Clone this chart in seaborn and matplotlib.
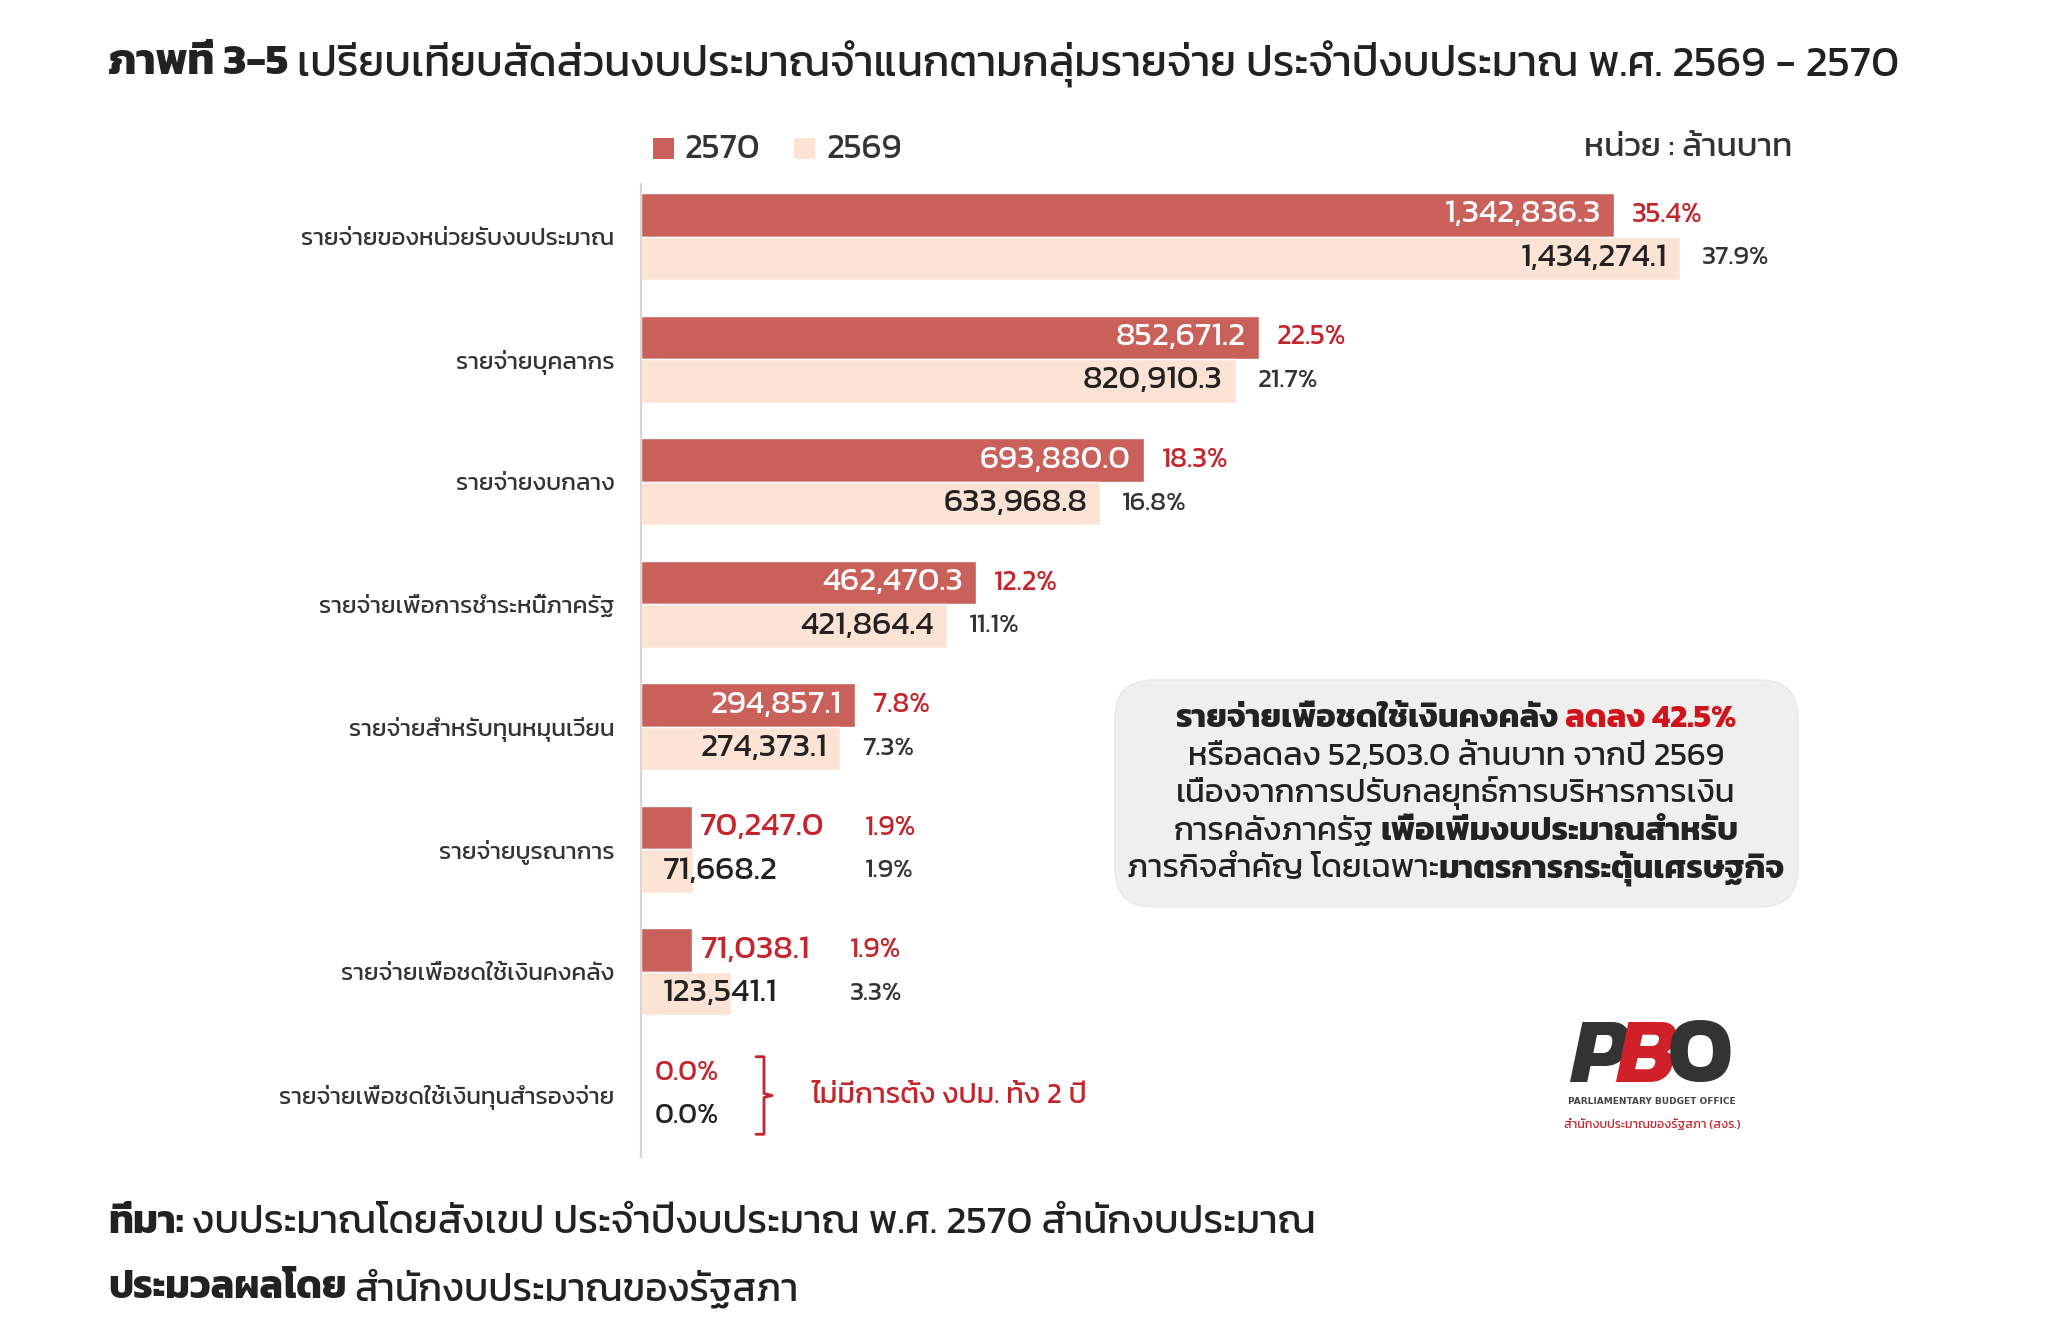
import matplotlib
matplotlib.use("Agg")
import matplotlib.pyplot as plt
import matplotlib.font_manager as fm
import matplotlib.patheffects as pe
from matplotlib.ft2font import FT2Font
from matplotlib.transforms import IdentityTransform
from matplotlib.patches import FancyBboxPatch, Rectangle
import seaborn as sns
import pandas as pd

# ---------------- data ----------------
categories = [
    "รายจ่ายของหน่วยรับงบประมาณ",
    "รายจ่ายบุคลากร",
    "รายจ่ายงบกลาง",
    "รายจ่ายเพื่อการชำระหนี้ภาครัฐ",
    "รายจ่ายสำหรับทุนหมุนเวียน",
    "รายจ่ายบูรณาการ",
    "รายจ่ายเพื่อชดใช้เงินคงคลัง",
    "รายจ่ายเพื่อชดใช้เงินทุนสำรองจ่าย",
]
years = ["2570", "2569"]
values_2570 = [1342836.3, 852671.2, 693880.0, 462470.3, 294857.1, 70247.0, 71038.1, 0.0]
values_2569 = [1434274.1, 820910.3, 633968.8, 421864.4, 274373.1, 71668.2, 123541.1, 0.0]
pct_2570 = ["35.4%", "22.5%", "18.3%", "12.2%", "7.8%", "1.9%", "1.9%", "0.0%"]
pct_2569 = ["37.9%", "21.7%", "16.8%", "11.1%", "7.3%", "1.9%", "3.3%", "0.0%"]

title_bold = "ภาพที่ 3-5"
title_rest = "เปรียบเทียบสัดส่วนงบประมาณจำแนกตามกลุ่มรายจ่าย ประจำปีงบประมาณ พ.ศ. 2569 - 2570"
unit_text = "หน่วย : ล้านบาท"
zero_note = "ไม่มีการตั้ง งปม. ทั้ง 2 ปี"
box_lines = [
    [("รายจ่ายเพื่อชดใช้เงินคงคลัง", "b", "k"), ("ลดลง 42.5%", "b", "r")],
    [("หรือลดลง 52,503.0 ล้านบาท จากปี 2569", "n", "k")],
    [("เนื่องจากการปรับกลยุทธ์การบริหารการเงิน", "n", "k")],
    [("การคลังภาครัฐ", "n", "k"), ("เพื่อเพิ่มงบประมาณสำหรับ", "b", "k")],
    [("ภารกิจสำคัญ โดยเฉพาะ", "n", "k", 0), ("มาตรการกระตุ้นเศรษฐกิจ", "b", "k")],
]
footer1 = [("ที่มา:", "b"), ("งบประมาณโดยสังเขป ประจำปีงบประมาณ พ.ศ. 2570 สำนักงบประมาณ", "n")]
footer2 = [("ประมวลผลโดย", "b"), ("สำนักงบประมาณของรัฐสภา", "n")]

# ---------------- colours ----------------
C70 = "#c9605a"
C69 = "#fce3d4"
RED = "#c4242b"
DARK = "#222222"

# ---------------- fonts (find one with Thai glyphs) ----------------
def wnum(w):
    if isinstance(w, str):
        return fm.weight_dict.get(w, 400)
    return int(w)

def thai_fonts():
    paths = set(f.fname for f in fm.fontManager.ttflist)
    try:
        paths.update(fm.findSystemFonts())
    except Exception:
        pass
    info = {}
    for p in sorted(paths):
        try:
            cm = FT2Font(p).get_charmap()
        except Exception:
            continue
        if 0x0E01 in cm and 0x0E32 in cm:
            try:
                fm.fontManager.addfont(p)
            except Exception:
                pass
            for e in fm.fontManager.ttflist:
                if e.fname == p:
                    info.setdefault(e.name, set()).add(wnum(e.weight))
    return info

info = thai_fonts()
pref = ["Noto Sans Thai", "Kanit", "Prompt", "Sarabun", "Noto Sans Thai Looped",
        "Loma", "Garuda", "Waree", "Umpush", "Norasi", "Kinnari", "Sawasdee"]
thai = None
for p in pref:
    if p in info and max(info[p]) >= 600:
        thai = p
        break
if thai is None:
    for p in pref:
        if p in info:
            thai = p
            break
if thai is None and info:
    withbold = [n for n in info if max(info[n]) >= 600]
    thai = withbold[0] if withbold else sorted(info)[0]
HAS_BOLD = bool(thai) and max(info[thai]) >= 600
FAM = ([thai] if thai else []) + ["DejaVu Sans"]

sns.set_theme(style="white")
plt.rcParams["font.family"] = FAM

W, H = 2061, 1331
fig = plt.figure(figsize=(W / 100, H / 100), dpi=100)
fig.patch.set_facecolor("white")
ID = IdentityTransform()

ax_l, ax_r, ax_t, ax_b = 641, 1979, 184, 1157
ax = fig.add_axes([ax_l / W, 1 - ax_b / H, (ax_r - ax_l) / W, (ax_b - ax_t) / H])

df = pd.DataFrame({
    "category": categories * 2,
    "year": [years[0]] * len(categories) + [years[1]] * len(categories),
    "value": values_2570 + values_2569,
})
sns.barplot(data=df, y="category", x="value", hue="year", hue_order=years,
            order=categories, palette={years[0]: C70, years[1]: C69},
            orient="h", width=0.71, saturation=1, errorbar=None,
            legend=False, ax=ax)

ax.set_xlim(0, 1846800)
ax.set_ylim(7.51, -0.43)
ax.set_xlabel("")
ax.set_ylabel("")
ax.set_xticks([])
for s in ["top", "right", "bottom"]:
    ax.spines[s].set_visible(False)
ax.spines["left"].set_color("#d6d6d6")
ax.spines["left"].set_linewidth(1.6)
ax.tick_params(axis="y", length=0, pad=19, labelsize=17.5, labelcolor="#333333")
ax.set_facecolor("white")

fig.canvas.draw()
R = fig.canvas.get_renderer()

def tw(t):
    return t.get_window_extent(R).width

def bold_kw(size, color):
    if HAS_BOLD:
        return {"fontweight": "bold"}
    return {"path_effects": [pe.withStroke(linewidth=max(0.9, size * 0.055), foreground=color)]}

def put(x, y_top, s, bold=False, **kw):
    kw.setdefault("va", "center")
    if bold:
        kw.update(bold_kw(kw.get("fontsize", 12), kw.get("color", DARK)))
    return fig.text(x, H - y_top, s, transform=ID, **kw)

def space_w(size, bold):
    a = put(0, 0, "x x", bold=bold, fontsize=size)
    b = put(0, 0, "xx", bold=bold, fontsize=size)
    w = tw(a) - tw(b)
    a.remove(); b.remove()
    return w

def rich(pieces, x, y_top, size, ha="left", va="center"):
    sp = {"n": space_w(size, False), "b": space_w(size, True)}
    arts, widths, gaps = [], [], []
    for pc in pieces:
        s, wt = pc[0], pc[1]
        col = {"k": DARK, "r": "#d0141c"}[pc[2]] if len(pc) > 2 else DARK
        t = put(0, y_top, s, bold=(wt == "b"), fontsize=size, color=col, ha="left", va=va)
        arts.append(t); widths.append(tw(t))
        gaps.append(sp[wt] if len(pc) < 4 else pc[3])
    gaps[-1] = 0
    total = sum(widths) + sum(gaps)
    x0 = x - total / 2 if ha == "center" else (x - total if ha == "right" else x)
    for t, w, g in zip(arts, widths, gaps):
        t.set_x(x0)
        x0 += w + g

# ---------------- bar labels ----------------
def disp(xv, yv):
    return ax.transData.transform((xv, yv))

VAL_FS = 24
bars70 = list(ax.containers[0])
bars69 = list(ax.containers[1])
for i in range(len(categories)):
    groups = [(bars70[i], values_2570[i], pct_2570[i], 0), (bars69[i], values_2569[i], pct_2569[i], 1)]
    if values_2570[i] == 0 and values_2569[i] == 0:
        for b, v, pc, k in groups:
            x0, yc = disp(0, b.get_y() + b.get_height() / 2)
            put(x0 + 14, H - yc, pc, fontsize=21, color=RED if k == 0 else DARK)
        continue
    info_rows = []
    for b, v, pc, k in groups:
        yc_data = b.get_y() + b.get_height() / 2
        x_end, yc = disp(b.get_width(), yc_data)
        x_start, _ = disp(0, yc_data)
        y_top = H - yc
        t = put(0, y_top, f"{v:,.1f}", fontsize=VAL_FS,
                color="white" if k == 0 else DARK, ha="right")
        w = tw(t)
        if w + 30 < x_end - x_start:
            t.set_x(x_end - 13)
            lab_end = x_end
            inside = True
        else:
            t.set_ha("left")
            if k == 0:
                t.set_color(RED)
                t.set_x(x_end + 8)
                lab_end = x_end + 8 + w
            else:
                t.set_x(x_start + 22)
                lab_end = x_start + 22 + w
            inside = False
        info_rows.append((x_end, lab_end, inside, y_top, pc, k))
    any_out = not all(it[2] for it in info_rows)
    common = max(it[1] for it in info_rows) + 40
    for x_end, lab_end, inside, y_top, pc, k in info_rows:
        xp = common if any_out else x_end + (18 if k == 0 else 22)
        put(xp, y_top, pc, fontsize=20.5 if k == 0 else 19.5,
            color=RED if k == 0 else "#333333")

# bracket + note for the zero row
b70, b69 = bars70[-1], bars69[-1]
_, y1 = disp(0, b70.get_y() + b70.get_height() / 2)
_, y2 = disp(0, b69.get_y() + b69.get_height() / 2)
ytop_b, ybot_b = y1 + 16, y2 - 18
ymid = (ytop_b + ybot_b) / 2
bx = 764
fig.add_artist(plt.Line2D([bx - 8, bx, bx, bx + 8, bx, bx, bx - 8],
                          [ytop_b, ytop_b, ymid + 2, ymid, ymid - 2, ybot_b, ybot_b],
                          transform=ID, color=RED, lw=2))
put(811, H - ymid, zero_note, fontsize=21, color=RED)

# ---------------- title / legend / unit ----------------
rich([(title_bold, "b"), (title_rest, "n")], 108, 64, 31)

for sx, col, lab in [(653, C70, years[0]), (794, C69, years[1])]:
    fig.add_artist(Rectangle((sx, H - 159), 21, 21, transform=ID, color=col, lw=0))
    put(sx + 32, 149, lab, fontsize=25, color="#333333")
put(1792, 149, unit_text, fontsize=24, color="#333333", ha="right")

# ---------------- annotation box ----------------
fig.add_artist(FancyBboxPatch((1115, H - 907), 683, 227, transform=ID,
                              boxstyle="round,pad=0,rounding_size=38",
                              fc="#efefef", ec="#e8e8e8", lw=1))
for j, line in enumerate(box_lines):
    rich(line, 1456, 727 + j * 37.6, 23.5, ha="center", va="baseline")

# ---------------- logo ----------------
lx, ly = 1570, 1060
pP = put(lx, ly, "P", bold=True, fontsize=66, color="#333333", fontstyle="italic")
wp = tw(pP)
pB = put(lx + wp - 10, ly, "B", bold=True, fontsize=66, color="#d0202a", fontstyle="italic")
wb = tw(pB)
pO = put(lx + wp + wb - 18, ly, "O", bold=True, fontsize=66, color="#333333")
put(1652, 1101, "PARLIAMENTARY BUDGET OFFICE", fontsize=6.5, fontweight="bold",
    color="#444444", ha="center", family=["DejaVu Sans"])
put(1652, 1124, "สำนักงบประมาณของรัฐสภา (สงร.)", fontsize=9, color="#c0282e", ha="center")

# ---------------- footer ----------------
rich(footer1, 108, 1224, 28.5)
rich(footer2, 108, 1289, 28)

fig.savefig("out.png", dpi=100, facecolor="white")
